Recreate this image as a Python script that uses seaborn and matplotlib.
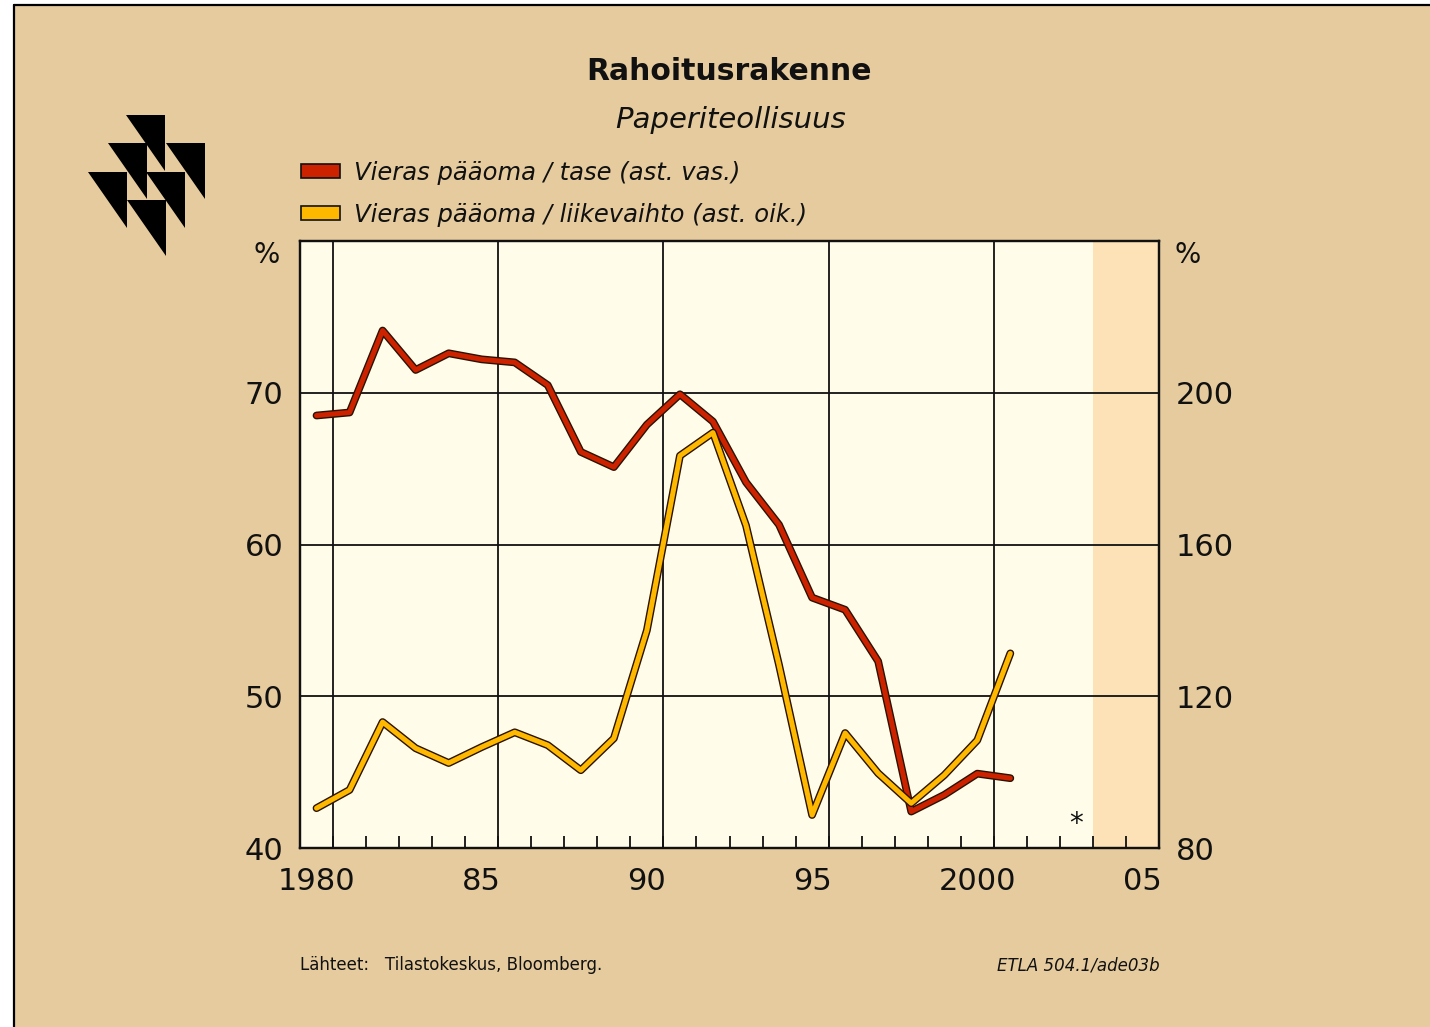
import numpy as np
import pandas as pd
import matplotlib
matplotlib.use('Agg')
import matplotlib.pyplot as plt
import matplotlib.patheffects as pe
from matplotlib.patches import Polygon, Rectangle, Patch
from matplotlib.lines import Line2D
import seaborn as sns

# Data
years = list(range(1980, 2002))
debt_to_assets = [68.5, 68.7, 74.1, 71.5, 72.6, 72.2, 72.0, 70.5, 66.1, 65.1, 67.9,
                  69.9, 68.1, 64.1, 61.3, 56.5, 55.7, 52.3, 42.4, 43.5, 44.9, 44.6]
debt_to_sales = [90.5, 95.3, 113.2, 106.3, 102.4, 106.6, 110.5, 107.1, 100.5, 108.9, 137.4,
                 183.4, 189.5, 165.0, 128.2, 88.7, 110.3, 99.7, 91.8, 99.2, 108.4, 131.3]
tick_years = [1980, 1985, 1990, 1995, 2000, 2005]
tick_labels = ['1980', '85', '90', '95', '2000', '05']
left_ticks = [40, 50, 60, 70]
right_ticks = [80, 120, 160, 200]
labels = ['Vieras pääoma / tase (ast. vas.)', 'Vieras pääoma / liikevaihto (ast. oik.)']

df = pd.DataFrame({'year': years, 'assets': debt_to_assets, 'sales': debt_to_sales})

TAN = '#E6CB9E'
CREAM = '#FFFDEA'
PEACH = '#FDE2B8'
RED = '#CC2200'
YELLOW = '#FFB800'
INK = '#111111'

sns.set_style('white')
plt.rcParams['font.family'] = ['DejaVu Sans']
plt.rcParams['text.color'] = INK
plt.rcParams['xtick.color'] = INK
plt.rcParams['ytick.color'] = INK

W, H = 1430, 1027
fig = plt.figure(figsize=(W / 100, H / 100), dpi=100, facecolor='white')

def fx(x):
    return x / W

def fy(y):
    return 1 - y / H

# tan frame
fig.add_artist(Rectangle((fx(14), 0), 1 - fx(14), fy(5), transform=fig.transFigure,
                         facecolor=TAN, edgecolor='none', zorder=0))
fig.add_artist(Line2D([fx(14), fx(14)], [0, fy(5)], transform=fig.transFigure, color='black', lw=1.6))
fig.add_artist(Line2D([fx(14), 1], [fy(5), fy(5)], transform=fig.transFigure, color='black', lw=1.6))

# logo triangles (top-left x, top y)
w_t, h_t = 39, 56
for (x0, y0) in [(126, 115), (108, 143), (166, 143), (88, 172), (146, 172), (127, 200)]:
    pts = [(fx(x0), fy(y0)), (fx(x0 + w_t), fy(y0)), (fx(x0 + w_t), fy(y0 + h_t))]
    fig.add_artist(Polygon(pts, closed=True, transform=fig.transFigure,
                           facecolor='black', edgecolor='none'))

ax = fig.add_axes([fx(300), fy(848), fx(1159) - fx(300), (848 - 241) / H])
ax.set_facecolor(CREAM)
ax2 = ax.twinx()

ax.axvspan(2003.5, 2005.5, color=PEACH, zorder=0, lw=0)

outline = lambda: [pe.Stroke(linewidth=5.6, foreground='#2a1200'), pe.Normal()]
sns.lineplot(data=df, x='year', y='assets', ax=ax, color=RED, lw=3.6, zorder=5)
ax.lines[-1].set_path_effects(outline())
sns.lineplot(data=df, x='year', y='sales', ax=ax2, color=YELLOW, lw=3.6, zorder=5)
ax2.lines[-1].set_path_effects(outline())

ax.set_xlim(1979.5, 2005.5)
ax.set_ylim(40, 80)
ax2.set_ylim(80, 240)

# grid
for v in [50, 60, 70]:
    ax.axhline(v, color=INK, lw=1.3, zorder=2)
for yr in [1980.5, 1985.5, 1990.5, 1995.5, 2000.5]:
    ax.axvline(yr, color=INK, lw=1.3, zorder=2)

ax.set_xticks(tick_years)
ax.set_xticklabels(tick_labels)
ax.set_xticks(np.arange(1980.5, 2005, 1.0), minor=True)
ax.tick_params(axis='x', which='major', length=0, pad=14, labelsize=22, labelcolor=INK)
ax.tick_params(axis='x', which='minor', direction='in', length=8.5, width=1.3, color=INK, bottom=True)
ax.set_yticks(left_ticks)
ax.set_yticklabels([str(v) for v in left_ticks])
ax.tick_params(axis='y', length=0, pad=12, labelsize=22, labelcolor=INK)
ax2.set_yticks(right_ticks)
ax2.set_yticklabels([str(v) for v in right_ticks])
ax2.tick_params(axis='y', length=0, pad=12, labelsize=22, labelcolor=INK)
ax.set_xlabel('')
ax.set_ylabel('')
ax2.set_ylabel('')

for a in (ax, ax2):
    for s in a.spines.values():
        s.set_color(INK)
        s.set_linewidth(1.6)

ax.text(2003, 41.6, '*', ha='center', va='center', fontsize=20, color=INK, zorder=6)

# % labels
fig.text(fx(267), fy(255), '%', ha='center', va='center', fontsize=20, color=INK)
fig.text(fx(1188), fy(255), '%', ha='center', va='center', fontsize=20, color=INK)

# titles
fig.text(fx(729), fy(72), 'Rahoitusrakenne', ha='center', va='center', fontsize=21.5,
         fontweight='bold', color=INK)
fig.text(fx(731), fy(120), 'Paperiteollisuus', ha='center', va='center', fontsize=21,
         fontstyle='italic', color=INK)

# legend
handles = [Patch(facecolor=RED, edgecolor=INK, lw=1.2), Patch(facecolor=YELLOW, edgecolor=INK, lw=1.2)]
fig.legend(handles, labels, loc='upper left', bbox_to_anchor=(fx(291), fy(151)), frameon=False,
           prop={'size': 17.5, 'style': 'italic'}, handlelength=1.6, handleheight=0.5,
           handletextpad=0.6, labelspacing=0.75, borderaxespad=0)

# footer
fig.text(fx(300), fy(965), 'Lähteet:   Tilastokeskus, Bloomberg.', ha='left', va='center',
         fontsize=12, color=INK)
fig.text(fx(1160), fy(965), 'ETLA 504.1/ade03b', ha='right', va='center', fontsize=12,
         fontstyle='italic', color=INK)

fig.savefig('out.png', dpi=100, facecolor='white')
